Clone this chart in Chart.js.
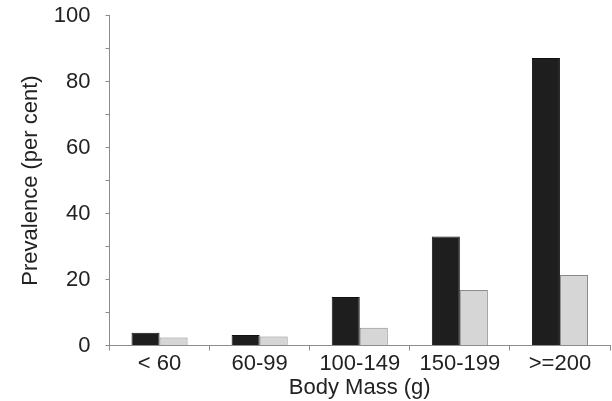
<!DOCTYPE html>
<html>
<head>
<meta charset="utf-8">
<script src="https://cdn.jsdelivr.net/npm/chart.js@4/dist/chart.umd.min.js"></script>
<style>
  html, body { margin: 0; padding: 0; background: #ffffff; }
  #wrap { width: 612px; height: 401px; }
</style>
</head>
<body>
<div id="wrap"><canvas id="c" width="612" height="401"></canvas></div>
<script>
const categories = ["< 60", "60-99", "100-149", "150-199", ">=200"];
const darkSeries = [3.9, 3.2, 14.7, 33.0, 87.1];
const lightSeries = [2.4, 2.7, 5.4, 16.8, 21.4];
const yTicks = [0, 20, 40, 60, 80, 100];
const xTitle = "Body Mass (g)";
const yTitle = "Prevalence (per cent)";

const FONT = "'Liberation Sans', Arial, sans-serif";
const TEXT = "#222222";
const AXIS = "#8c8c8c";

new Chart(document.getElementById("c"), {
  type: "bar",
  data: {
    labels: categories,
    datasets: [
      { data: darkSeries, backgroundColor: "#1e1e1e", borderColor: "#111111", borderWidth: 1 },
      { data: lightSeries, backgroundColor: "#d6d6d6", borderColor: "#8a8a8a", borderWidth: 1 }
    ]
  },
  options: {
    responsive: false,
    animation: false,
    devicePixelRatio: 1,
    layout: { padding: { top: 15.5, right: 2, bottom: 0, left: 0 } },
    plugins: { legend: { display: false }, tooltip: { enabled: false } },
    datasets: { bar: { barPercentage: 1.0, categoryPercentage: 0.56 } },
    scales: {
      x: {
        grid: { display: true, drawOnChartArea: false, drawTicks: true, tickLength: 5, offset: true, color: AXIS },
        border: { display: true, color: AXIS, width: 1 },
        ticks: { color: TEXT, font: { family: FONT, size: 22 }, padding: 0, maxRotation: 0, autoSkip: false },
        title: { display: true, text: xTitle, color: TEXT, font: { family: FONT, size: 22 }, padding: { top: 0, bottom: 0 } },
        afterFit: (s) => { s.height = 55.5; s.paddingLeft = 0; s.paddingRight = 0; }
      },
      y: {
        min: 0, max: 100,
        grid: { display: true, drawOnChartArea: false, drawTicks: true, tickLength: 4, color: AXIS },
        border: { display: true, color: AXIS, width: 1 },
        ticks: {
          stepSize: 10,
          color: TEXT,
          font: { family: FONT, size: 22 },
          padding: 15,
          callback: (v) => yTicks.includes(v) ? String(v) : ""
        },
        title: { display: true, text: yTitle, color: TEXT, font: { family: FONT, size: 22 }, padding: { top: 18, bottom: 0 } },
        afterFit: (s) => { s.width = 109.5; s.paddingTop = 0; s.paddingBottom = 0; }
      }
    }
  }
});
</script>
</body>
</html>
